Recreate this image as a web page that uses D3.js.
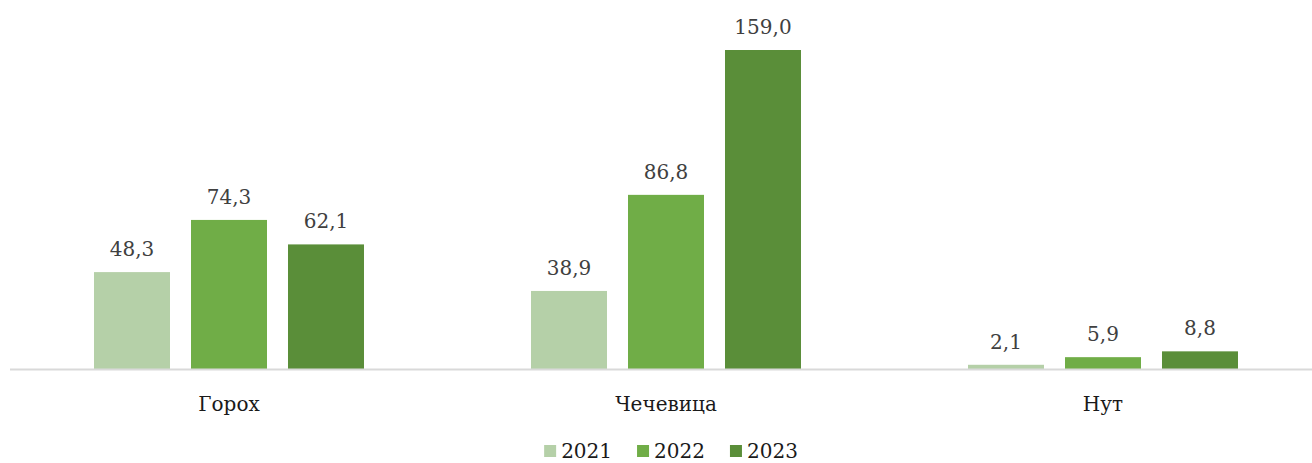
<!DOCTYPE html>
<meta charset="utf-8">
<style>
  body { margin: 0; background: #fff; }
  text { font-family: "DejaVu Serif", serif; }
</style>
<body>
<script src="https://d3js.org/d3.v7.min.js"></script>
<script>
  // data
  var categories = ["Горох", "Чечевица", "Нут"];
  var years = ["2021", "2022", "2023"];
  var values2021 = [48.3, 38.9, 2.1];
  var values2022 = [74.3, 86.8, 5.9];
  var values2023 = [62.1, 159.0, 8.8];
  var colors = ["#b5d0a8", "#70ad47", "#5a8e39"];

  var series = [values2021, values2022, values2023];

  var width = 1312, height = 463;
  var baseY = 369;

  var svg = d3.select("body").append("svg")
      .attr("width", width)
      .attr("height", height);

  // scales
  var x0 = d3.scaleBand()
      .domain(categories)
      .range([10.5, 1321.5])
      .padding(0);

  var x1 = d3.scaleBand()
      .domain(years)
      .range([0, x0.bandwidth()])
      .paddingInner(21 / 97)
      .paddingOuter(0.861);

  var y = d3.scaleLinear()
      .domain([0, 159])
      .range([baseY, 50]);

  var fmt = function(v) { return d3.format(".1f")(v).replace(".", ","); };

  // bars
  categories.forEach(function(cat, ci) {
    var g = svg.append("g")
        .attr("transform", "translate(" + x0(cat) + ",0)");
    years.forEach(function(yr, si) {
      var v = series[si][ci];
      g.append("rect")
          .attr("x", x1(yr))
          .attr("width", x1.bandwidth())
          .attr("y", y(v))
          .attr("height", baseY - y(v))
          .style("fill", colors[si]);
      g.append("text")
          .attr("x", x1(yr) + x1.bandwidth() / 2)
          .attr("y", y(v) - 16)
          .attr("text-anchor", "middle")
          .style("font-size", "20px")
          .style("fill", "#404040")
          .text(fmt(v));
    });
  });

  // axis line
  svg.append("line")
      .attr("x1", 10)
      .attr("x2", width)
      .attr("y1", baseY + 0.5)
      .attr("y2", baseY + 0.5)
      .style("stroke", "#d9d9d9")
      .style("stroke-width", 2);

  // category labels
  svg.selectAll(".cat")
      .data(categories)
    .enter().append("text")
      .attr("class", "cat")
      .attr("x", function(d) { return x0(d) + x0.bandwidth() / 2; })
      .attr("y", 411)
      .attr("text-anchor", "middle")
      .style("font-size", "20px")
      .style("fill", "#1a1a1a")
      .text(function(d) { return d; });

  // legend
  var legend = svg.append("g");
  var lx = 0;
  years.forEach(function(yr, i) {
    var item = legend.append("g").attr("transform", "translate(" + lx + ",0)");
    item.append("rect")
        .attr("x", 0)
        .attr("y", 445)
        .attr("width", 12)
        .attr("height", 12)
        .style("fill", colors[i]);
    var t = item.append("text")
        .attr("x", 17)
        .attr("y", 458)
        .style("font-size", "20px")
        .style("fill", "#1a1a1a")
        .text(yr);
    lx += 17 + t.node().getComputedTextLength() + 25;
  });
  var lw = lx - 25;
  legend.attr("transform", "translate(" + (671 - lw / 2) + ",0)");
</script>
</body>
